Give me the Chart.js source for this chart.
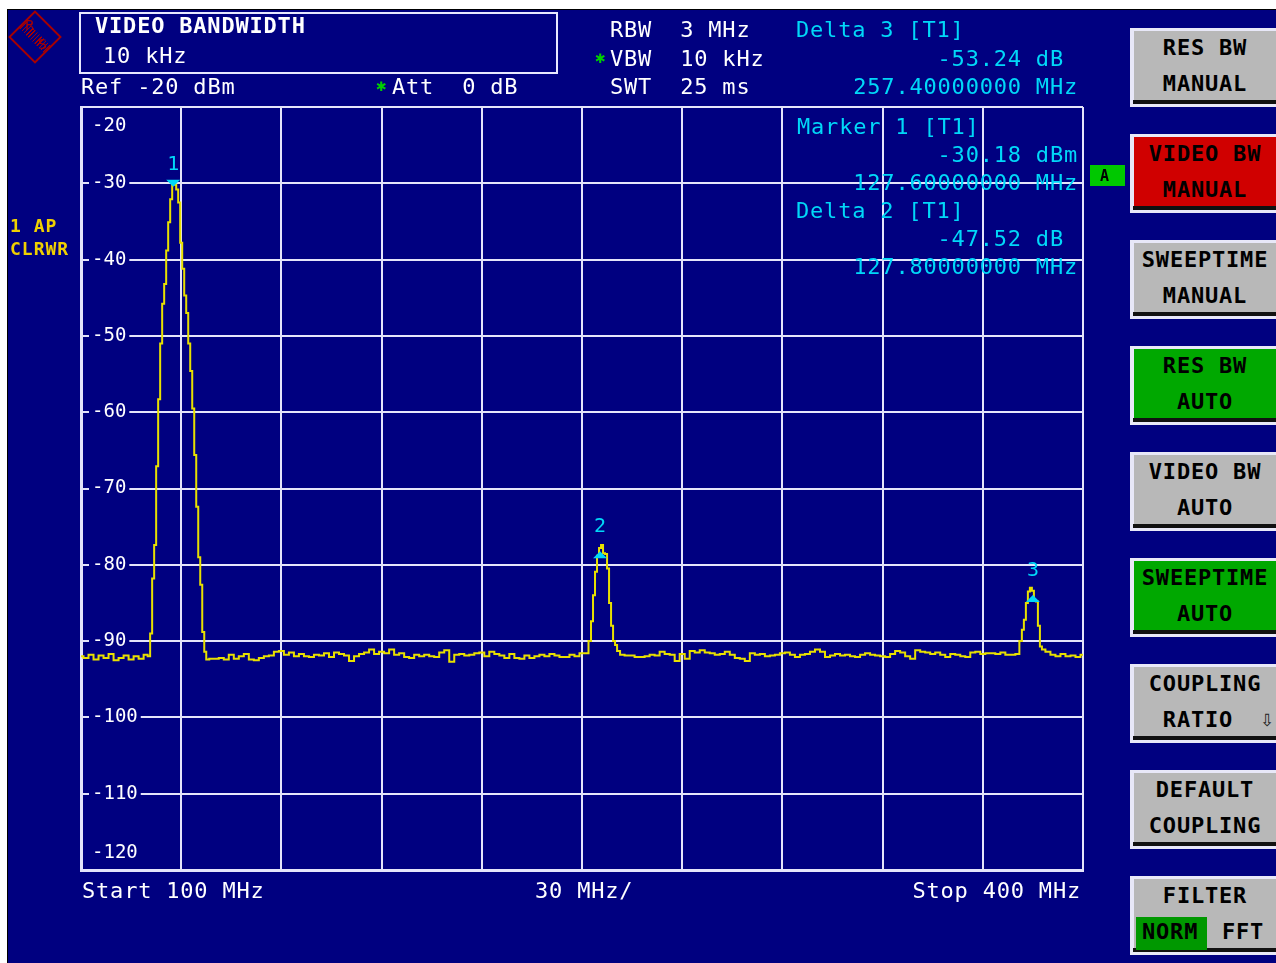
<!DOCTYPE html>
<html>
<head>
<meta charset="utf-8">
<title>Video bandwidth</title>
<script src="https://cdn.jsdelivr.net/npm/chart.js@4.4.1/dist/chart.umd.min.js"></script>
<style>
  html, body { margin: 0; padding: 0; background: #fff; }
  body { position: relative; width: 1276px; height: 963px; overflow: hidden; }
  #screen { position: absolute; left: 7px; top: 9px; width: 1269px; height: 954px; background: #000080; border-left: 1px solid #000; border-top: 1px solid #000; }
  #spectrum { position: absolute; left: 0; top: 0; }
  .t { position: absolute; font-family: 'DejaVu Sans Mono', monospace; font-size: 22px; line-height: 26px; letter-spacing: 0.8px; white-space: pre; color: #fff; }
  .cy { color: #00d8f8; }
  .b { font-weight: bold; }
  .star { position: absolute; color: #00d000; font-family: 'DejaVu Sans', sans-serif; font-size: 13px; line-height: 14px; }
  .yel { color: #f0d000; font-weight: bold; font-size: 18px; line-height: 22px; letter-spacing: 1px; }
  #hdrbox { position: absolute; left: 79px; top: 12px; width: 475px; height: 58px; border: 2px solid #e8e8ff; }
  .key { position: absolute; left: 1130px; width: 146px; height: 79px; background: #e8e8f8; }
  .key .face { position: absolute; left: 4px; top: 3px; right: 0; bottom: 7px; background: #b8b8b8; }
  .key .shade { position: absolute; left: 3px; right: 0; bottom: 3px; height: 4px; background: #111; }
  .key .l { position: absolute; left: 4px; width: 142px; text-align: center; color: #000; font-weight: bold; }
  .key .l1 { top: 7px; }
  .key .l2 { top: 43px; }
  #logo { position: absolute; left: 16px; top: 18px; width: 34px; height: 34px; border: 2px solid #a80000; transform: rotate(45deg); }
  #logo-band { position: absolute; left: 0; top: 12px; width: 34px; height: 10px; background: repeating-linear-gradient(90deg, #a80000 0 1px, transparent 1px 3px); }
  .logo-t { position: absolute; color: #a80000; font-family: 'DejaVu Sans', sans-serif; font-size: 14px; line-height: 15px; }
</style>
</head>
<body>
<div id="screen"></div>
<canvas id="spectrum" width="1276" height="963"></canvas>

<div id="logo"><div id="logo-band"></div></div>
<span class="logo-t" style="left:25px;top:18px">R</span>
<span class="logo-t" style="left:38px;top:37px">S</span>

<div id="hdrbox"></div>
<span class="t b" style="left:95px;top:13px">VIDEO BANDWIDTH</span>
<span class="t" style="left:103px;top:43px">10 kHz</span>
<span class="t" style="left:81px;top:74px">Ref -20 dBm</span>
<span class="star" style="left:376px;top:80px">✱</span>
<span class="t" style="left:392px;top:74px">Att  0 dB</span>

<span class="t" style="left:610px;top:17px">RBW  3 MHz</span>
<span class="star" style="left:595px;top:52px">✱</span>
<span class="t" style="left:610px;top:46px">VBW  10 kHz</span>
<span class="t" style="left:610px;top:74px">SWT  25 ms</span>

<span class="t cy" style="left:796px;top:17px">Delta 3 [T1]</span>
<span class="t cy" style="right:198px;top:46px">-53.24 dB </span>
<span class="t cy" style="right:198px;top:74px">257.40000000 MHz</span>

<span class="t cy" style="left:797px;top:114px">Marker 1 [T1]</span>
<span class="t cy" style="right:198px;top:142px">-30.18 dBm</span>
<span class="t cy" style="right:198px;top:170px">127.60000000 MHz</span>
<span class="t cy" style="left:796px;top:198px">Delta 2 [T1]</span>
<span class="t cy" style="right:198px;top:226px">-47.52 dB </span>
<span class="t cy" style="right:198px;top:254px">127.80000000 MHz</span>

<div style="position:absolute;left:1090px;top:165px;width:35px;height:21px;background:#00c800"></div>
<span class="t b" style="left:1100px;top:163px;font-size:15px;color:#000">A</span>

<span class="t yel" style="left:10px;top:215px">1 AP</span>
<span class="t yel" style="left:10px;top:238px">CLRWR</span>

<span class="t" style="left:82px;top:878px">Start 100 MHz</span>
<span class="t" style="left:535px;top:878px">30 MHz/</span>
<span class="t" style="right:195px;top:878px">Stop 400 MHz</span>

<div id="keys"></div>

<script>
// sweep 100 .. 400 MHz, 30 MHz/div, ref level -20 dBm, 10 dB/div
const startMHz = 100;
const stopMHz = 400;
const mhzPerDiv = 30;
const refLevel = -20;
const bottomLevel = -120;
const dbPerDiv = 10;

// trace 1 (clear/write)
const traceMHz = [
  // floor below marker 1
  100, 101.5, 103, 104.5, 106, 107.5, 109, 110.5, 112, 113.5, 115, 116.5, 118, 119.5,
  // carrier at marker 1
  120.4, 121.0, 121.6, 122.2, 122.8, 123.4, 124.0, 124.6, 125.2, 125.8,
  126.4, 127.0, 127.6, 128.2, 128.8, 129.4, 130.0, 130.6, 131.2, 131.8,
  132.4, 133.0, 133.6, 134.2, 134.8, 135.4, 136.0, 136.6, 137.2, 137.8,
  // floor
  139.0, 140.5, 142.0, 143.5, 145.0, 146.5, 148.0, 149.5, 151.0, 152.5,
  154.0, 155.5, 157.0, 158.5, 160.0, 161.5, 163.0, 164.5, 166.0, 167.5,
  169.0, 170.5, 172.0, 173.5, 175.0, 176.5, 178.0, 179.5, 181.0, 182.5,
  184.0, 185.5, 187.0, 188.5, 190.0, 191.5, 193.0, 194.5, 196.0, 197.5,
  199.0, 200.5, 202.0, 203.5, 205.0, 206.5, 208.0, 209.5, 211.0, 212.5,
  214.0, 215.5, 217.0, 218.5, 220.0, 221.5, 223.0, 224.5, 226.0, 227.5,
  229.0, 230.5, 232.0, 233.5, 235.0, 236.5, 238.0, 239.5, 241.0, 242.5,
  244.0, 245.5, 247.0, 248.5, 250.0, 251.5,
  // harmonic at delta 2
  252.4, 253.0, 253.6, 254.2, 254.8, 255.4, 256.0, 256.6, 257.2, 257.8,
  258.4, 259.0, 259.6, 260.2, 260.8,
  // floor
  262.0, 263.5, 265.0, 266.5, 268.0, 269.5, 271.0, 272.5, 274.0, 275.5,
  277.0, 278.5, 280.0, 281.5, 283.0, 284.5, 286.0, 287.5, 289.0, 290.5,
  292.0, 293.5, 295.0, 296.5, 298.0, 299.5, 301.0, 302.5, 304.0, 305.5,
  307.0, 308.5, 310.0, 311.5, 313.0, 314.5, 316.0, 317.5, 319.0, 320.5,
  322.0, 323.5, 325.0, 326.5, 328.0, 329.5, 331.0, 332.5, 334.0, 335.5,
  337.0, 338.5, 340.0, 341.5, 343.0, 344.5, 346.0, 347.5, 349.0, 350.5,
  352.0, 353.5, 355.0, 356.5, 358.0, 359.5, 361.0, 362.5, 364.0, 365.5,
  367.0, 368.5, 370.0, 371.5, 373.0, 374.5, 376.0, 377.5, 379.0, 380.5,
  // harmonic at delta 3
  381.4, 382.0, 382.6, 383.2, 383.8, 384.4, 385.0, 385.6, 386.2, 386.8, 387.4, 388.0,
  // floor
  389.5, 391.0, 392.5, 394.0, 395.5, 397.0, 398.5, 400.0
];

const traceDbm = [
  -92.0, -92.2, -91.8, -92.4, -91.9, -92.2, -91.7, -92.5, -92.2, -91.9, -92.4, -92.0, -92.3, -91.8,

  -92.0, -89.0, -81.8, -77.4, -67.1, -58.3, -51.0, -45.8, -43.2, -38.8,
  -35.1, -32.1, -30.2, -30.2, -30.8, -32.5, -37.8, -41.2, -44.7, -47.0,
  -51.0, -54.6, -59.5, -65.6, -72.4, -79.0, -82.6, -88.8, -91.4, -92.4,

  -92.3, -92.3, -92.2, -92.4, -91.8, -92.3, -92.0, -91.7, -92.4, -92.5,
  -92.2, -92.0, -91.9, -91.4, -91.3, -91.8, -91.5, -92.0, -91.7, -92.0,
  -92.1, -91.8, -91.9, -91.6, -92.1, -91.5, -91.7, -91.9, -92.6, -92.0,
  -91.7, -91.5, -91.1, -91.7, -91.4, -91.6, -91.1, -91.8, -91.6, -92.1,
  -92.2, -91.8, -92.0, -91.8, -92.0, -92.1, -91.5, -91.2, -92.7, -91.8,
  -91.7, -91.9, -91.8, -91.6, -91.5, -92.0, -91.4, -91.7, -91.9, -92.2,
  -91.7, -92.2, -92.3, -91.9, -92.2, -92.0, -91.8, -92.0, -91.7, -91.9,
  -92.1, -92.1, -91.8, -92.0, -91.6, -91.6,

  -90.0, -87.4, -84.0, -80.9, -78.8, -77.8, -77.4, -78.5, -78.6, -80.5,
  -85.0, -88.0, -90.0, -90.5, -91.3,

  -91.8, -91.9, -91.9, -92.1, -92.1, -92.0, -91.8, -91.9, -91.4, -91.7,
  -91.8, -92.6, -91.7, -92.3, -91.3, -91.5, -91.2, -91.5, -91.6, -91.8,
  -91.7, -91.4, -91.8, -92.2, -92.3, -92.6, -91.6, -91.8, -91.7, -92.0,
  -91.9, -91.8, -91.6, -91.5, -91.8, -92.1, -91.8, -91.7, -91.4, -91.1,
  -91.4, -92.1, -91.9, -91.7, -91.9, -91.8, -92.0, -92.1, -91.8, -91.6,
  -91.8, -91.9, -92.0, -92.1, -91.7, -91.3, -91.5, -92.0, -92.3, -91.2,
  -91.4, -91.5, -91.7, -91.5, -91.8, -92.1, -91.7, -91.8, -92.0, -92.1,
  -91.5, -91.4, -91.7, -91.6, -91.6, -91.7, -91.5, -91.8, -91.8, -91.7,

  -90.0, -88.5, -87.2, -85.0, -83.5, -83.0, -83.4, -84.6, -84.8, -88.0, -90.7, -91.1,

  -91.4, -91.8, -92.0, -91.7, -92.0, -91.9, -92.1, -91.8
];

// marker 1 and the two delta markers (absolute positions on the trace)
const markerMHz = [127.6, 255.4, 385.0];
const markerDbm = [-30.18, -77.70, -83.42];
const markerNames = ['1', '2', '3'];

// softkey menu
const keyTop = ['RES BW', 'VIDEO BW', 'SWEEPTIME', 'RES BW', 'VIDEO BW', 'SWEEPTIME', 'COUPLING', 'DEFAULT', 'FILTER'];
const keyBottom = ['MANUAL', 'MANUAL', 'MANUAL', 'AUTO', 'AUTO', 'AUTO', 'RATIO ', 'COUPLING', ''];
const keyFill = ['#b8b8b8', '#d00000', '#b8b8b8', '#00a800', '#b8b8b8', '#00a800', '#b8b8b8', '#b8b8b8', '#b8b8b8'];

const navy = '#000080';
const cyan = '#00d8f8';
const gridWhite = '#e4e4fa';

let chart;

const buildKeys = function () {
  let html = '';
  for (let i = 0; i < keyTop.length; i++) {
    const top = 28 + i * 106;
    let second = `<span class="t l l2">${keyBottom[i]}</span>`;
    if (i === 6) {
      second += `<span class="t" style="left:130px;top:46px;font-family:'DejaVu Sans';font-size:17px;line-height:20px;color:#222">⇩</span>`;
    }
    if (i === 8) {
      second = `<div style="position:absolute;left:6px;top:41px;width:71px;height:33px;background:#009800"></div>
        <span class="t b" style="left:12px;top:43px;color:#000">NORM</span>
        <span class="t b" style="left:92px;top:43px;color:#000">FFT</span>`;
    }
    html += `
    <div class="key" style="top:${top}px">
      <div class="face" style="background:${keyFill[i]}"></div>
      <div class="shade"></div>
      <span class="t l l1">${keyTop[i]}</span>
      ${second}
    </div>`;
  }
  document.getElementById('keys').innerHTML = html;
};

// marker symbols, marker numbers and the two end labels of the level axis
const markerPlugin = {
  id: 'markers',
  afterDatasetsDraw(c) {
    const ctx = c.ctx;
    const x = c.scales.x;
    const y = c.scales.y;
    ctx.save();
    ctx.fillStyle = cyan;
    ctx.font = '20px "DejaVu Sans Mono"';
    ctx.textAlign = 'center';
    ctx.textBaseline = 'middle';
    for (let i = 0; i < markerMHz.length; i++) {
      const px = x.getPixelForValue(markerMHz[i]);
      const py = y.getPixelForValue(markerDbm[i]);
      ctx.beginPath();
      if (i === 0) {
        ctx.moveTo(px - 7, py - 5);
        ctx.lineTo(px + 7, py - 5);
        ctx.lineTo(px, py + 2);
      } else {
        ctx.moveTo(px - 7, py + 11);
        ctx.lineTo(px + 7, py + 11);
        ctx.lineTo(px, py + 4);
      }
      ctx.closePath();
      ctx.fill();
      ctx.fillText(markerNames[i], px, py - 20);
    }
    ctx.fillStyle = '#ffffff';
    ctx.textAlign = 'left';
    ctx.font = '19px "DejaVu Sans Mono"';
    ctx.fillText(String(refLevel), x.left + 11, y.getPixelForValue(refLevel) + 19);
    ctx.fillText(String(bottomLevel), x.left + 11, y.getPixelForValue(bottomLevel) - 17);
    ctx.restore();
  }
};

const isEndLevel = function (v) {
  return v === refLevel || v === bottomLevel;
};

const drawChart = function () {
  const points = traceMHz.map((f, i) => ({ x: f, y: traceDbm[i] }));
  const ctx = document.getElementById('spectrum').getContext('2d');
  chart = new Chart(ctx, {
    type: 'line',
    data: {
      datasets: [{
        label: 'Trace 1',
        data: points,
        borderColor: '#e8e000',
        borderWidth: 2,
        pointRadius: 0,
        stepped: 'middle',
        fill: false
      }]
    },
    options: {
      responsive: false,
      animation: false,
      devicePixelRatio: 1,
      layout: { padding: { left: 81, top: 107, right: 193, bottom: 93 } },
      plugins: { legend: { display: false }, tooltip: { enabled: false } },
      scales: {
        x: {
          type: 'linear',
          min: startMHz,
          max: stopMHz,
          afterFit: (s) => { s.height = 0; },
          ticks: { display: false, stepSize: mhzPerDiv },
          grid: { color: gridWhite, lineWidth: 2, drawTicks: false },
          border: { display: true, color: gridWhite, width: 3 }
        },
        y: {
          type: 'linear',
          min: bottomLevel,
          max: refLevel,
          afterFit: (s) => { s.width = 0; },
          ticks: {
            stepSize: dbPerDiv,
            mirror: true,
            padding: 11,
            color: '#ffffff',
            font: { family: 'DejaVu Sans Mono', size: 19 },
            showLabelBackdrop: true,
            backdropPadding: 3,
            backdropColor: (c) => (c.tick && isEndLevel(c.tick.value)) ? 'rgba(0,0,0,0)' : navy,
            callback: (v) => isEndLevel(v) ? '' : String(v)
          },
          grid: { color: gridWhite, lineWidth: 2, drawTicks: false },
          border: { display: true, color: gridWhite, width: 3 }
        }
      }
    },
    plugins: [markerPlugin]
  });
};

document.addEventListener('DOMContentLoaded', function () {
  buildKeys();
  drawChart();
});
</script>
</body>
</html>
